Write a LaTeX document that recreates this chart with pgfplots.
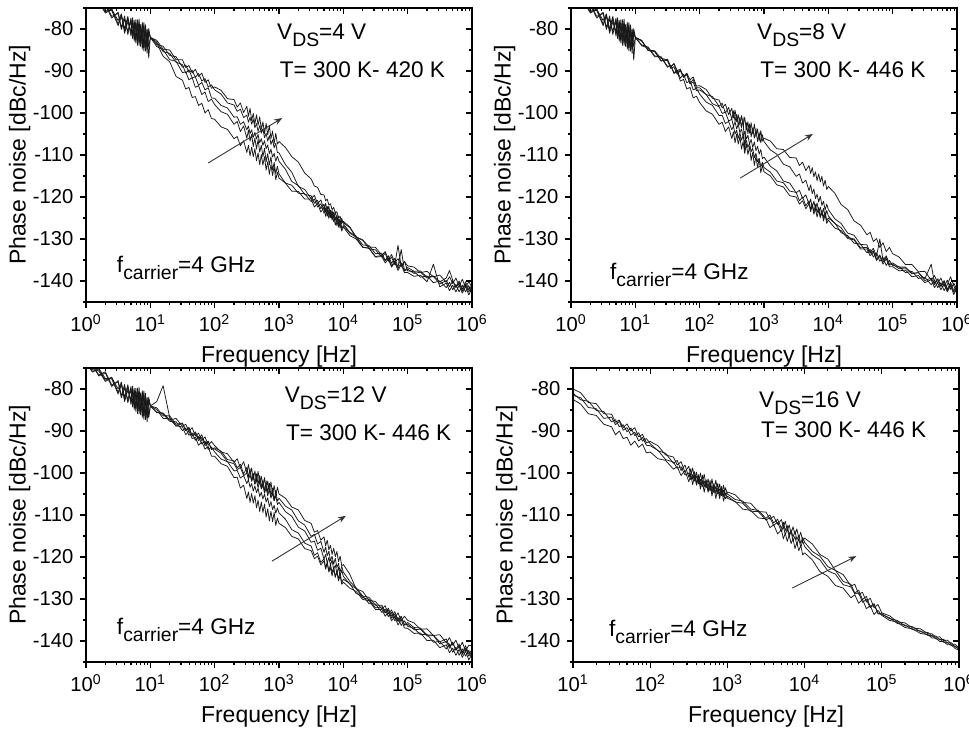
\documentclass[border=0pt]{standalone}
\usepackage{fontspec}
\setmainfont{Liberation Sans}
\usepackage{pgfplots}
\usepackage{pgfplotstable}
\pgfplotsset{compat=1.18}
\usetikzlibrary{arrows.meta}

\newcommand\annfont{\fontsize{11.3}{13}\selectfont}
\newcommand\sub[1]{\raisebox{-3.5pt}{\fontsize{9.7}{10}\selectfont #1}}
\newcommand\tlfont{\fontsize{10.1}{12}\selectfont}
\newcommand\lbfont{\fontsize{11.5}{13}\selectfont}

% ---------------- V_DS = 4 V ----------------
\pgfplotstableread{
f A B C D E
1 -71.5 -72.6 -71.7 -72.4 -71.2
1.26 -73.8 -72.3 -74.0 -72.5 -73.4
1.58 -73.4 -74.9 -73.1 -74.6 -73.7
2 -75.9 -74.2 -75.5 -73.9 -76.2
2.51 -75.2 -77.4 -75.6 -77.0 -75.3
3.16 -78.8 -76.0 -79.2 -76.3 -78.0
3.55 -76.7 -79.7 -77.0 -80.1 -76.4
3.98 -80.5 -76.9 -79.9 -77.7 -81.0
4.47 -77.5 -81.3 -77.0 -80.6 -78.3
5.01 -81.7 -78.0 -81.2 -77.4 -80.7
5.31 -77.9 -82.3 -78.6 -81.6 -77.3
5.62 -82.9 -77.9 -82.3 -78.7 -81.5
5.96 -78.6 -83.3 -77.8 -82.8 -78.8
6.31 -82.8 -78.6 -83.9 -77.8 -82.3
6.68 -78.5 -83.3 -79.3 -83.9 -77.6
7.08 -84.2 -79.3 -82.8 -78.9 -83.5
7.5 -79.8 -84.8 -78.4 -83.4 -80.1
7.94 -85.2 -79.0 -84.1 -78.5 -84.5
8.41 -79.9 -84.7 -80.4 -85.3 -79.0
8.91 -84.6 -80.0 -85.8 -80.3 -83.8
9.44 -81.0 -84.3 -79.9 -86.9 -80.6
10 -82 -82 -82 -82 -82
12.6 -82.7 -83.7 -83.1 -84.2 -83.4
15.8 -84.8 -84.1 -85.4 -84.9 -86.5
20 -85.0 -86.3 -85.8 -87.3 -87.8
25.1 -87.3 -86.6 -87.9 -87.7 -91.3
31.6 -87.3 -89.1 -88.5 -90.4 -92.2
35.5 -89.2 -88.6 -90.5 -90.2 -94.3
39.8 -88.7 -90.3 -89.7 -92.1 -93.9
44.7 -90.5 -89.8 -91.6 -91.6 -96.3
50.1 -89.6 -91.5 -91.4 -93.9 -96.1
56.2 -91.3 -90.6 -93.4 -93.5 -98.2
63.1 -90.5 -92.4 -92.7 -95.6 -97.7
70.8 -92.7 -91.8 -94.5 -95.0 -100.0
79.4 -92.1 -93.8 -94.0 -97.3 -99.2
89.1 -94.1 -93.3 -96.4 -96.7 -101.3
100 -93.8 -94.5 -96.5 -98 -101.5
126 -94.6 -95.5 -98.2 -99.7 -103.3
158 -96.6 -97.6 -98.8 -100.3 -103.9
200 -96.8 -98.1 -101.0 -102.7 -106.1
224 -98.6 -99.6 -100.9 -102.0 -105.6
251 -97.6 -99.1 -102.7 -104.4 -107.8
282 -99.9 -101.1 -102.1 -103.1 -106.6
316 -98.4 -100.5 -104.0 -106.0 -109.4
335 -100.8 -102.2 -103.1 -104.1 -107.7
355 -98.9 -101.0 -104.9 -106.7 -110.2
376 -101.8 -102.7 -104.0 -105.1 -108.1
398 -100.1 -101.5 -105.8 -108.0 -110.4
422 -102.6 -103.5 -104.6 -106.0 -108.5
447 -100.4 -102.5 -106.2 -108.6 -111.4
473 -102.9 -104.4 -105.1 -106.3 -109.5
501 -100.9 -103.0 -107.1 -109.3 -112.3
531 -103.9 -104.8 -106.1 -107.7 -109.9
562 -102.1 -103.8 -107.7 -110.4 -112.4
596 -104.9 -105.9 -106.6 -108.4 -110.4
631 -102.5 -104.8 -108.5 -111.6 -113.6
668 -105.2 -106.7 -107.6 -109.7 -111.6
708 -103.0 -105.4 -109.7 -112.4 -114.6
750 -106.1 -107.5 -108.6 -110.4 -112.3
794 -104.3 -106.4 -110.5 -113.6 -114.9
841 -107.3 -108.3 -109.6 -111.8 -112.7
891 -104.8 -107.2 -111.5 -114.4 -115.9
944 -107.4 -109.4 -110.3 -112.7 -114.1
1000 -106.8 -109.5 -111.5 -114.5 -115.5
1260 -108.2 -112.3 -113.4 -116.7 -116.7
1580 -110.4 -114.1 -116.3 -117.2 -118.6
2000 -111.7 -117.5 -117.3 -119.1 -118.7
2510 -114.3 -118.2 -119.4 -119.2 -120.5
3160 -115.7 -120.4 -119.7 -121.1 -120.5
3550 -117.4 -119.6 -121.5 -120.5 -122.4
3980 -117.7 -121.6 -120.8 -122.4 -121.5
4470 -119.4 -120.7 -122.8 -121.6 -123.6
5010 -119.5 -123.0 -121.7 -123.9 -122.5
5310 -120.9 -121.5 -123.6 -122.6 -124.6
5620 -120.5 -123.5 -122.2 -124.6 -123.2
5960 -121.9 -122.2 -124.3 -123.1 -125.1
6310 -121.6 -124.4 -123.1 -124.9 -123.5
6680 -123.0 -123.2 -125.1 -123.6 -125.5
7080 -122.5 -125.0 -123.6 -125.9 -124.4
7500 -123.8 -123.5 -125.5 -124.8 -126.7
7940 -123.5 -125.6 -124.3 -126.8 -125.3
8410 -125.0 -124.5 -126.6 -125.3 -127.2
8910 -124.6 -126.6 -125.3 -127.4 -125.9
9440 -126.0 -125.1 -127.5 -126.0 -128.1
10000 -126.1 -126.4 -126.8 -125.8 -127.1
12600 -127.3 -128.4 -128.6 -127.1 -129.2
15800 -129.6 -129.3 -129.6 -129.5 -130.0
20000 -130.3 -131.4 -131.9 -130.2 -132.0
25100 -132.3 -131.6 -132.2 -131.9 -132.2
31600 -132.6 -133.5 -134.2 -132.0 -134.3
39800 -134.3 -133.4 -133.9 -133.9 -134.2
44700 -133.4 -135.1 -135.2 -133.0 -135.7
50100 -135.3 -134.0 -134.5 -134.8 -134.8
56200 -134.3 -135.8 -136.4 -133.7 -136.7
63100 -136.1 -134.6 -135.3 -135.6 -135.6
70800 -131.5 -136.7 -137.0 -134.7 -137.5
79400 -136.6 -132.5 -135.7 -136.5 -136.1
89100 -135.4 -137.5 -137.6 -135.3 -138.0
100000 -136.4 -136.8 -137.2 -137.6 -138.0
126000 -136.7 -137.7 -138.2 -137.8 -138.9
158000 -138.0 -137.6 -137.9 -139.1 -138.6
200000 -137.7 -139.1 -139.3 -138.8 -140.2
251000 -139.0 -138.8 -138.9 -140.4 -136.0
316000 -138.6 -140.2 -140.7 -140.0 -141.4
398000 -140.3 -139.3 -139.9 -141.6 -140.5
447000 -139.0 -137.5 -141.4 -140.3 -142.3
501000 -140.6 -139.8 -139.9 -142.1 -141.0
562000 -139.3 -141.5 -141.6 -140.8 -142.6
631000 -141.2 -140.0 -140.4 -142.6 -141.1
708000 -139.6 -142.0 -142.4 -141.0 -142.9
794000 -141.6 -140.2 -140.8 -142.6 -141.3
891000 -140.1 -142.1 -142.6 -141.1 -143.3
1000000 -141.6 -141.0 -141.3 -143.1 -141.8
}\pone

% ---------------- V_DS = 8 V ----------------
\pgfplotstableread{
f A B C D E
1 -71.7 -71.2 -71.5 -72.6 -72.4
1.26 -74.0 -73.4 -73.8 -72.3 -72.5
1.58 -73.1 -73.7 -73.4 -74.9 -74.6
2 -75.5 -76.2 -75.9 -74.2 -73.9
2.51 -75.6 -75.3 -75.2 -77.4 -77.0
3.16 -79.2 -78.0 -78.8 -76.0 -76.3
3.55 -77.0 -76.4 -76.7 -79.7 -80.1
3.98 -79.9 -81.0 -80.5 -76.9 -77.7
4.47 -77.0 -78.3 -77.5 -81.3 -80.6
5.01 -81.2 -80.7 -81.7 -78.0 -77.4
5.31 -78.6 -77.3 -77.9 -82.3 -81.6
5.62 -82.3 -81.5 -82.9 -77.9 -78.7
5.96 -77.8 -78.8 -78.6 -83.3 -82.8
6.31 -83.9 -82.3 -82.8 -78.6 -77.8
6.68 -79.3 -77.6 -78.5 -83.3 -83.9
7.08 -82.8 -83.5 -84.2 -79.3 -78.9
7.5 -78.4 -80.1 -79.8 -84.8 -83.4
7.94 -84.1 -84.5 -85.2 -79.0 -78.5
8.41 -80.4 -79.0 -79.9 -84.7 -85.3
8.91 -85.8 -83.8 -84.6 -80.0 -80.3
9.44 -79.9 -80.6 -81.0 -84.3 -87.4
10 -82 -82 -82 -82 -82
12.6 -82.9 -82.7 -82.8 -83.8 -84.0
15.8 -85.0 -85.1 -85.1 -84.3 -84.5
20 -85.2 -85.4 -85.3 -86.4 -86.6
25.1 -87.0 -87.6 -87.6 -86.7 -86.6
31.6 -87.3 -87.2 -87.5 -89.1 -88.9
35.5 -89.1 -89.0 -89.4 -88.6 -88.7
39.8 -88.2 -88.3 -89.0 -90.4 -90.6
44.7 -89.9 -90.3 -90.8 -89.9 -90.1
50.1 -89.6 -89.8 -89.9 -91.7 -92.4
56.2 -91.4 -91.5 -91.5 -90.8 -92.0
63.1 -90.5 -90.8 -90.8 -92.8 -94.3
70.8 -92.1 -93.0 -93.1 -92.3 -93.9
79.4 -91.4 -92.0 -92.6 -94.5 -96.4
89.1 -93.6 -94.0 -94.7 -94.1 -96.0
100 -93.5 -94 -94.5 -95.5 -97.5
126 -94.4 -95.6 -95.6 -97.4 -99.5
158 -96.5 -96.1 -97.8 -98.2 -100.3
200 -96.9 -98.4 -98.5 -100.6 -102.7
224 -98.8 -97.7 -100.1 -100.6 -102.2
251 -97.9 -100.0 -99.8 -102.5 -104.4
282 -100.4 -98.7 -101.9 -102.0 -103.3
316 -98.9 -101.5 -101.5 -104.0 -106.1
335 -101.2 -99.5 -103.2 -103.1 -104.5
355 -99.3 -102.0 -102.1 -105.0 -107.1
376 -102.1 -100.3 -103.8 -104.1 -105.0
398 -100.4 -103.1 -102.7 -106.0 -107.4
422 -102.9 -101.0 -104.7 -104.8 -105.6
447 -100.6 -103.5 -103.8 -106.5 -108.6
473 -103.1 -101.1 -105.7 -105.4 -106.8
501 -101.0 -109.5 -104.4 -107.5 -109.6
531 -104.0 -102.3 -106.2 -106.5 -107.3
562 -102.1 -104.9 -105.3 -108.2 -109.9
596 -104.8 -102.6 -107.4 -107.2 -108.0
631 -102.3 -105.7 -106.3 -109.2 -111.3
668 -105.0 -103.5 -108.2 -108.4 -109.4
708 -102.7 -106.0 -106.9 -110.6 -112.5
750 -105.7 -103.7 -109.0 -109.6 -110.3
794 -103.8 -106.8 -107.9 -111.6 -113.0
841 -106.7 -104.7 -109.8 -110.8 -110.9
891 -104.2 -107.1 -108.7 -112.8 -114.2
944 -106.7 -105.2 -110.9 -111.7 -112.5
1000 -106 -106.8 -110.5 -113 -114
1260 -106.7 -108.8 -112.7 -114.1 -115.0
1580 -108.5 -109.8 -113.8 -116.2 -117.1
2000 -108.7 -112.2 -116.2 -116.6 -117.6
2510 -110.6 -112.8 -116.7 -118.6 -119.7
3160 -110.7 -115.1 -119.0 -118.9 -120.0
3550 -112.5 -114.5 -118.4 -120.9 -121.7
3980 -111.7 -116.7 -120.3 -120.0 -120.9
4470 -113.7 -116.0 -119.5 -122.1 -122.8
5010 -112.5 -118.5 -121.8 -120.9 -121.6
5310 -114.4 -117.1 -120.5 -123.0 -123.5
5620 -113.0 -119.2 -122.5 -121.6 -122.0
5960 -115.2 -118.1 -121.0 -123.5 -124.1
6310 -114.0 -120.4 -122.8 -121.8 -122.8
6680 -116.1 -119.3 -121.4 -123.7 -124.8
7080 -114.5 -121.2 -123.6 -122.5 -123.1
7500 -116.4 -119.8 -122.4 -124.7 -124.9
7940 -115.1 -122.0 -124.3 -123.1 -123.5
8410 -117.4 -121.0 -122.7 -124.9 -125.7
8910 -116.0 -123.1 -124.7 -123.5 -124.2
9440 -118.2 -121.7 -123.2 -125.6 -126.3
10000 -117.5 -123 -124.5 -125 -125.5
12600 -119.1 -125.2 -126.3 -126.2 -127.4
15800 -121.8 -126.3 -127.3 -128.5 -128.0
20000 -123.0 -128.6 -129.6 -129.2 -129.9
25100 -125.7 -129.1 -130.0 -131.0 -130.2
31600 -126.7 -131.3 -132.1 -131.2 -132.4
39800 -129.0 -131.4 -132.0 -133.3 -132.4
44700 -128.4 -133.2 -133.4 -132.5 -134.0
50100 -130.6 -132.2 -132.8 -134.3 -133.1
56200 -129.9 -134.1 -134.8 -133.3 -135.1
63100 -132.0 -130.0 -133.8 -135.3 -134.1
70800 -130.9 -135.1 -135.5 -134.4 -136.0
79400 -133.0 -134.0 -134.3 -136.3 -134.7
89100 -132.0 -136.0 -136.2 -135.1 -136.6
100000 -133.5 -135.7 -136.0 -136.3 -136.6
126000 -134.3 -136.7 -137.1 -136.6 -137.6
158000 -136.1 -136.7 -136.9 -138.0 -137.4
200000 -136.1 -138.2 -138.3 -137.7 -139.0
251000 -137.8 -138.0 -138.0 -139.4 -138.7
316000 -137.7 -139.5 -139.9 -139.1 -140.4
398000 -139.8 -136.0 -139.3 -140.9 -139.7
447000 -138.7 -140.6 -140.9 -139.7 -141.6
501000 -140.5 -139.5 -139.5 -141.6 -140.4
562000 -139.3 -141.3 -141.3 -140.4 -142.1
631000 -141.3 -139.9 -140.2 -142.3 -140.7
708000 -139.8 -142.0 -142.3 -140.8 -142.6
794000 -142.0 -140.3 -140.8 -139.0 -141.1
891000 -140.5 -142.3 -142.7 -141.1 -143.2
1000000 -142.0 -141.2 -141.4 -143.1 -141.7
}\ptwo

% ---------------- V_DS = 12 V ----------------
\pgfplotstableread{
f A B C D E
1 -74.4 -73.5 -73.2 -73.7 -74.6
1.26 -74.5 -75.8 -75.4 -76.0 -74.3
1.58 -76.6 -75.4 -75.7 -75.1 -76.9
2 -75.9 -77.9 -78.2 -77.5 -76.2
2.51 -79.0 -77.2 -77.3 -77.6 -79.4
3.16 -78.3 -80.8 -80.0 -81.2 -78.0
3.55 -82.1 -78.7 -78.4 -79.0 -81.7
3.98 -79.7 -82.5 -83.0 -81.9 -78.9
4.47 -82.6 -79.5 -80.3 -79.0 -83.3
5.01 -79.4 -83.7 -82.7 -83.2 -80.0
5.31 -83.6 -79.9 -79.3 -80.6 -84.3
5.62 -80.7 -84.9 -83.5 -84.3 -79.9
5.96 -84.8 -80.6 -80.8 -79.8 -85.3
6.31 -79.8 -84.8 -84.3 -85.9 -80.6
6.68 -85.9 -80.5 -79.6 -81.3 -85.3
7.08 -80.9 -86.2 -85.5 -84.8 -81.3
7.5 -85.4 -81.8 -82.1 -80.4 -86.8
7.94 -80.5 -87.2 -86.5 -86.1 -81.0
8.41 -87.3 -81.9 -81.0 -82.4 -86.7
8.91 -82.3 -86.6 -85.8 -87.8 -82.0
9.44 -86.9 -83.0 -82.6 -81.9 -86.3
10 -84 -84 -84 -84 -84
12.6 -85.6 -84.5 -83.0 -85.6 -84.9
15.8 -85.7 -86.4 -79.2 -85.9 -87.0
20 -87.4 -86.4 -86.8 -87.7 -87.1
25.1 -87.0 -88.4 -88.8 -87.8 -88.8
31.6 -88.9 -88.1 -88.2 -89.9 -89.0
35.5 -88.4 -89.9 -89.9 -89.3 -90.9
39.8 -90.0 -89.4 -89.1 -91.0 -90.0
44.7 -89.2 -91.1 -91.2 -90.5 -91.8
50.1 -91.2 -90.2 -90.6 -92.2 -91.5
56.2 -90.5 -91.8 -92.3 -91.3 -93.4
63.1 -92.3 -90.9 -91.5 -93.1 -92.6
70.8 -91.4 -93.1 -93.5 -92.4 -94.3
79.4 -93.4 -92.4 -92.5 -94.4 -93.7
89.1 -92.5 -94.4 -94.3 -93.8 -96.0
100 -93.5 -94 -94.3 -95 -96
126 -95.0 -94.8 -95.3 -96.7 -97.8
158 -95.4 -96.8 -97.3 -97.3 -98.4
200 -97.5 -97.1 -97.8 -99.5 -101.1
224 -96.6 -98.8 -99.2 -99.4 -101.0
251 -98.8 -97.9 -98.7 -101.2 -103.6
282 -97.3 -100.2 -100.6 -100.6 -102.9
316 -100.0 -98.7 -100.0 -102.5 -106.1
335 -98.0 -101.0 -101.6 -101.6 -104.5
355 -100.5 -99.0 -100.4 -103.4 -107.0
376 -98.8 -101.8 -102.0 -102.5 -104.9
398 -101.6 -100.1 -100.8 -104.3 -107.2
422 -99.5 -102.6 -102.7 -103.1 -105.4
447 -102.0 -100.2 -101.7 -104.7 -108.3
473 -99.6 -102.7 -103.5 -103.6 -106.5
501 -102.5 -100.6 -102.1 -105.6 -109.2
531 -100.8 -103.5 -103.8 -104.6 -106.9
562 -103.4 -101.6 -102.8 -106.2 -109.4
596 -101.1 -104.4 -104.8 -105.0 -107.4
631 -104.1 -101.9 -103.6 -106.9 -110.5
668 -101.9 -104.7 -105.4 -105.9 -108.5
708 -104.4 -102.4 -104.0 -108.0 -111.4
750 -102.1 -105.5 -106.0 -106.8 -109.1
794 -105.1 -103.6 -104.8 -108.7 -111.6
841 -103.0 -106.6 -106.6 -107.7 -109.4
891 -105.4 -104.1 -105.4 -109.6 -112.5
944 -103.4 -106.7 -107.5 -108.3 -110.7
1000 -105 -106 -107 -109.5 -112
1260 -106.0 -107.9 -109.2 -111.0 -113.0
1580 -108.1 -108.8 -110.3 -113.5 -115.1
2000 -108.8 -111.4 -112.9 -114.3 -115.7
2510 -111.3 -112.4 -113.8 -116.7 -118.0
3160 -112.0 -115.1 -116.5 -117.4 -118.5
3550 -114.1 -114.6 -116.2 -119.6 -120.4
3980 -113.7 -116.9 -118.4 -119.0 -119.8
4470 -116.0 -116.3 -117.9 -121.3 -121.9
5010 -115.2 -118.9 -120.5 -120.4 -120.9
5310 -117.3 -117.6 -119.4 -122.6 -122.9
5620 -116.0 -119.7 -121.5 -121.3 -121.5
5960 -118.3 -118.6 -120.1 -123.3 -123.6
6310 -117.2 -120.9 -122.0 -121.7 -122.5
6680 -119.4 -119.8 -120.7 -123.7 -124.5
7080 -117.9 -121.7 -123.0 -122.5 -122.9
7500 -119.9 -120.3 -121.9 -124.8 -124.8
7940 -118.7 -122.5 -123.9 -123.3 -123.5
8410 -121.1 -121.5 -122.4 -125.2 -125.7
8910 -119.8 -123.6 -124.5 -123.8 -124.4
9440 -122.1 -122.2 -123.1 -126.1 -126.5
10000 -121.8 -123.6 -124.6 -125.3 -126.0
12600 -124.1 -125.8 -126.5 -126.3 -127.4
15800 -127.6 -127.3 -127.5 -128.7 -128.2
20000 -128.2 -129.3 -129.7 -129.3 -130.1
25100 -130.3 -129.6 -130.1 -131.1 -130.4
31600 -130.6 -131.5 -132.1 -131.2 -132.5
39800 -132.4 -131.5 -131.9 -133.2 -132.5
44700 -131.6 -133.3 -133.3 -132.4 -134.1
50100 -133.5 -132.2 -132.6 -134.2 -133.2
56200 -132.6 -134.1 -134.6 -133.2 -135.2
63100 -134.5 -133.0 -133.6 -135.2 -134.2
70800 -133.3 -135.2 -135.4 -134.4 -136.2
79400 -135.2 -134.1 -134.2 -136.3 -134.9
89100 -134.1 -136.2 -136.2 -135.2 -136.9
100000 -135.1 -135.6 -136.0 -136.5 -137.0
126000 -135.7 -136.8 -137.3 -137.0 -138.2
158000 -137.2 -136.9 -137.2 -138.5 -138.1
200000 -137.1 -138.6 -138.8 -138.4 -139.9
251000 -138.7 -138.6 -138.7 -140.3 -139.8
316000 -138.5 -140.2 -140.7 -140.1 -141.6
398000 -140.4 -139.5 -140.1 -141.9 -140.9
447000 -139.2 -141.3 -141.7 -140.7 -142.8
501000 -141.0 -140.3 -140.4 -142.7 -141.7
562000 -139.8 -142.1 -142.2 -141.5 -143.4
631000 -141.8 -140.7 -141.1 -143.4 -142.0
708000 -140.3 -142.8 -143.2 -141.9 -143.9
794000 -142.4 -141.1 -141.7 -143.6 -142.4
891000 -141.0 -143.1 -143.6 -142.2 -144.5
1000000 -141.2 -142.1 -142.4 -144.3 -143.1
}\pthree

% ---------------- V_DS = 16 V ----------------
\pgfplotstableread{
f A B C D
10 -80 -81 -81.5 -82.5
12.6 -80.9 -82.6 -82.1 -83.6
15.8 -83.2 -82.9 -84.4 -85.9
20 -83.5 -85.1 -84.7 -86.3
25.1 -85.9 -85.4 -87.0 -88.4
31.6 -86.0 -87.8 -86.7 -89.0
35.5 -87.9 -87.3 -88.5 -90.9
39.8 -87.4 -89.0 -87.7 -90.0
44.7 -89.2 -88.5 -89.8 -91.8
50.1 -88.3 -90.2 -89.2 -91.5
56.2 -90.0 -89.3 -91.0 -93.4
63.1 -89.2 -91.1 -90.3 -92.4
70.8 -91.4 -90.4 -92.4 -93.9
79.4 -90.8 -92.4 -91.5 -93.1
89.1 -92.8 -91.8 -93.4 -95.2
100 -92.5 -93 -93.5 -95
126 -93.5 -94.7 -94.6 -96.6
158 -95.7 -95.3 -96.8 -97.0
200 -96.2 -97.7 -97.4 -99.1
224 -98.1 -97.0 -98.9 -98.5
251 -97.3 -99.4 -98.5 -100.6
282 -99.8 -98.1 -100.5 -99.4
316 -98.4 -101.0 -100.0 -102.1
335 -100.7 -99.0 -101.6 -100.4
355 -98.8 -101.5 -100.4 -102.8
376 -101.5 -99.7 -101.9 -100.6
398 -99.8 -102.5 -100.7 -102.9
422 -102.3 -100.4 -102.6 -101.0
447 -100.0 -102.9 -101.5 -103.8
473 -102.5 -100.5 -103.3 -101.9
501 -100.3 -103.3 -101.9 -104.6
531 -103.3 -101.6 -103.5 -102.1
562 -101.4 -104.2 -102.5 -104.6
596 -104.0 -101.8 -104.3 -102.4
631 -101.4 -104.7 -103.0 -105.5
668 -104.1 -102.5 -104.7 -103.3
708 -101.7 -104.9 -103.2 -106.1
750 -104.6 -102.5 -105.0 -103.7
794 -102.6 -105.4 -103.8 -106.1
841 -105.4 -103.2 -105.4 -103.7
891 -102.9 -105.6 -104.1 -106.7
944 -105.3 -103.5 -106.1 -104.8
1000 -104.5 -105 -105.5 -106
1260 -105.2 -106.3 -106.9 -106.8
1580 -107.0 -106.7 -107.2 -108.6
2000 -107.2 -108.6 -109.1 -108.9
2510 -109.2 -108.9 -109.2 -110.7
3160 -109.3 -110.8 -111.2 -110.9
3550 -111.0 -110.0 -110.6 -113.0
3980 -110.3 -111.9 -112.5 -112.3
4470 -112.2 -111.0 -111.7 -114.5
5010 -111.1 -113.2 -114.0 -113.5
5310 -112.9 -111.7 -112.7 -115.7
5620 -111.5 -113.7 -114.7 -114.3
5960 -113.6 -112.5 -113.3 -116.3
6310 -112.4 -114.7 -115.2 -114.8
6680 -114.4 -113.5 -113.9 -116.8
7080 -112.8 -115.3 -116.2 -115.7
7500 -114.6 -113.8 -115.1 -118.0
7940 -113.3 -115.9 -117.1 -116.6
8410 -115.5 -114.8 -115.6 -118.5
8910 -114.1 -116.8 -117.7 -117.2
9440 -116.2 -115.3 -116.2 -119.5
10000 -115.5 -116.5 -117.5 -119
12600 -116.9 -118.7 -119.5 -120.7
15800 -119.4 -119.8 -120.7 -123.5
20000 -120.5 -122.3 -123.3 -124.6
25100 -123.2 -123.2 -124.1 -126.8
31600 -124.2 -125.8 -126.6 -127.4
39800 -126.9 -126.5 -127.1 -129.7
44700 -126.5 -128.6 -128.8 -129.0
50100 -128.9 -127.9 -128.5 -131.0
56200 -128.4 -130.1 -130.8 -130.1
63100 -130.7 -129.4 -130.1 -132.3
70800 -129.8 -131.8 -132.1 -131.6
79400 -132.1 -131.1 -131.3 -133.7
89100 -131.3 -133.4 -133.5 -132.7
100000 -133.3 -133.5 -133.7 -133.9
126000 -134.0 -134.7 -134.5 -135.1
158000 -135.4 -135.1 -135.8 -135.5
200000 -135.7 -136.4 -136.2 -136.8
251000 -136.9 -136.6 -137.3 -137.1
316000 -137.1 -137.8 -137.6 -138.2
398000 -138.3 -138.0 -138.7 -138.5
447000 -138.3 -138.9 -138.7 -139.3
501000 -139.1 -138.8 -139.5 -139.3
562000 -139.0 -139.7 -139.5 -140.1
631000 -139.9 -139.6 -140.3 -140.1
708000 -139.8 -140.5 -140.3 -140.9
794000 -140.7 -140.4 -141.1 -140.9
891000 -140.8 -141.4 -141.2 -141.8
1000000 -141.7 -141.8 -142.0 -142.2
}\pfour

\pgfplotsset{
  every axis/.append style={
    scale only axis, width=193pt, height=147pt,
    ymin=-145, ymax=-75,
    ytick={-140,-130,-120,-110,-100,-90,-80},
    minor ytick={-145,-135,-125,-115,-105,-95,-85,-75},
    major tick length=2.8pt, minor tick length=1.6pt,
    axis line style={line width=0.6pt},
    every tick/.append style={black, line width=0.55pt},
    every tick label/.append style={font=\tlfont},
    every axis label/.append style={font=\lbfont},
  },
  pncurve/.style={black!90, line width=0.38pt, mark=none, line join=round},
  pnarr/.style={black!80, line width=0.45pt, mark=none, -{Stealth[length=4pt,width=3pt]}},
}

\begin{document}
\begin{tikzpicture}
% ---- panel 1 ----
\begin{axis}[xmode=log, xmin=1, xmax=1000000,
  xtick={1,10,100,1000,10000,100000,1000000},
  minor xtick={2,3,4,5,6,7,8,9,20,30,40,50,60,70,80,90,200,300,400,500,600,700,800,900,2000,3000,4000,5000,6000,7000,8000,9000,20000,30000,40000,50000,60000,70000,80000,90000,200000,300000,400000,500000,600000,700000,800000,900000},
  xticklabels={10\textsuperscript{0},10\textsuperscript{1},10\textsuperscript{2},10\textsuperscript{3},10\textsuperscript{4},10\textsuperscript{5},10\textsuperscript{6}},
  yticklabels={-140,-130,-120,-110,-100,-90,-80},
  tick align=outside, xtick pos=left, ytick pos=left,
  xlabel={Frequency [Hz]}, ylabel={Phase noise [dBc/Hz]},
  xlabel style={at={(axis description cs:0.5,-0.207)}, anchor=base},
  ylabel style={at={(axis description cs:-0.172,0.5)}, anchor=center},
  at={(43pt,214.5pt)}, anchor=south west]
\addplot[pncurve] table[x=f,y=A]{\pone};
\addplot[pncurve] table[x=f,y=B]{\pone};
\addplot[pncurve] table[x=f,y=C]{\pone};
\addplot[pncurve] table[x=f,y=D]{\pone};
\addplot[pncurve] table[x=f,y=E]{\pone};
\addplot[pnarr] coordinates {(79.4,-111.9) (1122,-101.2)};
\node[anchor=base west, font=\annfont] at (rel axis cs:0.477,0.892) {V\sub{DS}=4 V};
\node[anchor=base west, font=\annfont] at (rel axis cs:0.484,0.765) {T= 300 K- 420 K};
\node[anchor=base west, font=\annfont] at (rel axis cs:0.062,0.099) {f\sub{carrier}=4 GHz};
\end{axis}
\begin{axis}[xmode=log, xmin=1, xmax=1000000,
  xtick={1,10,100,1000,10000,100000,1000000},
  minor xtick={2,3,4,5,6,7,8,9,20,30,40,50,60,70,80,90,200,300,400,500,600,700,800,900,2000,3000,4000,5000,6000,7000,8000,9000,20000,30000,40000,50000,60000,70000,80000,90000,200000,300000,400000,500000,600000,700000,800000,900000},
  xticklabels={}, yticklabels={},
  tick align=inside, xtick pos=right, ytick pos=right,
  at={(43pt,214.5pt)}, anchor=south west]
\end{axis}
% ---- panel 2 ----
\begin{axis}[xmode=log, xmin=1, xmax=1000000,
  xtick={1,10,100,1000,10000,100000,1000000},
  minor xtick={2,3,4,5,6,7,8,9,20,30,40,50,60,70,80,90,200,300,400,500,600,700,800,900,2000,3000,4000,5000,6000,7000,8000,9000,20000,30000,40000,50000,60000,70000,80000,90000,200000,300000,400000,500000,600000,700000,800000,900000},
  xticklabels={10\textsuperscript{0},10\textsuperscript{1},10\textsuperscript{2},10\textsuperscript{3},10\textsuperscript{4},10\textsuperscript{5},10\textsuperscript{6}},
  yticklabels={-140,-130,-120,-110,-100,-90,-80},
  tick align=outside, xtick pos=left, ytick pos=left,
  xlabel={Frequency [Hz]}, ylabel={Phase noise [dBc/Hz]},
  xlabel style={at={(axis description cs:0.5,-0.207)}, anchor=base},
  ylabel style={at={(axis description cs:-0.172,0.5)}, anchor=center},
  at={(285.5pt,214.5pt)}, anchor=south west]
\addplot[pncurve] table[x=f,y=A]{\ptwo};
\addplot[pncurve] table[x=f,y=B]{\ptwo};
\addplot[pncurve] table[x=f,y=C]{\ptwo};
\addplot[pncurve] table[x=f,y=D]{\ptwo};
\addplot[pncurve] table[x=f,y=E]{\ptwo};
\addplot[pnarr] coordinates {(427,-115.5) (5754,-105)};
\node[anchor=base west, font=\annfont] at (rel axis cs:0.464,0.892) {V\sub{DS}=8 V};
\node[anchor=base west, font=\annfont] at (rel axis cs:0.472,0.762) {T= 300 K- 446 K};
\node[anchor=base west, font=\annfont] at (rel axis cs:0.083,0.078) {f\sub{carrier}=4 GHz};
\end{axis}
\begin{axis}[xmode=log, xmin=1, xmax=1000000,
  xtick={1,10,100,1000,10000,100000,1000000},
  minor xtick={2,3,4,5,6,7,8,9,20,30,40,50,60,70,80,90,200,300,400,500,600,700,800,900,2000,3000,4000,5000,6000,7000,8000,9000,20000,30000,40000,50000,60000,70000,80000,90000,200000,300000,400000,500000,600000,700000,800000,900000},
  xticklabels={}, yticklabels={},
  tick align=inside, xtick pos=right, ytick pos=right,
  at={(285.5pt,214.5pt)}, anchor=south west]
\end{axis}
% ---- panel 3 ----
\begin{axis}[xmode=log, xmin=1, xmax=1000000,
  xtick={1,10,100,1000,10000,100000,1000000},
  minor xtick={2,3,4,5,6,7,8,9,20,30,40,50,60,70,80,90,200,300,400,500,600,700,800,900,2000,3000,4000,5000,6000,7000,8000,9000,20000,30000,40000,50000,60000,70000,80000,90000,200000,300000,400000,500000,600000,700000,800000,900000},
  xticklabels={10\textsuperscript{0},10\textsuperscript{1},10\textsuperscript{2},10\textsuperscript{3},10\textsuperscript{4},10\textsuperscript{5},10\textsuperscript{6}},
  yticklabels={-140,-130,-120,-110,-100,-90,-80},
  tick align=outside, xtick pos=left, ytick pos=left,
  xlabel={Frequency [Hz]}, ylabel={Phase noise [dBc/Hz]},
  xlabel style={at={(axis description cs:0.5,-0.207)}, anchor=base},
  ylabel style={at={(axis description cs:-0.172,0.5)}, anchor=center},
  at={(43pt,34.5pt)}, anchor=south west]
\addplot[pncurve] table[x=f,y=A]{\pthree};
\addplot[pncurve] table[x=f,y=B]{\pthree};
\addplot[pncurve] table[x=f,y=C]{\pthree};
\addplot[pncurve] table[x=f,y=D]{\pthree};
\addplot[pncurve] table[x=f,y=E]{\pthree};
\addplot[pnarr] coordinates {(776,-121) (10965,-110.2)};
\node[anchor=base west, font=\annfont] at (rel axis cs:0.497,0.881) {V\sub{DS}=12 V};
\node[anchor=base west, font=\annfont] at (rel axis cs:0.500,0.755) {T= 300 K- 446 K};
\node[anchor=base west, font=\annfont] at (rel axis cs:0.062,0.092) {f\sub{carrier}=4 GHz};
\end{axis}
\begin{axis}[xmode=log, xmin=1, xmax=1000000,
  xtick={1,10,100,1000,10000,100000,1000000},
  minor xtick={2,3,4,5,6,7,8,9,20,30,40,50,60,70,80,90,200,300,400,500,600,700,800,900,2000,3000,4000,5000,6000,7000,8000,9000,20000,30000,40000,50000,60000,70000,80000,90000,200000,300000,400000,500000,600000,700000,800000,900000},
  xticklabels={}, yticklabels={},
  tick align=inside, xtick pos=right, ytick pos=right,
  at={(43pt,34.5pt)}, anchor=south west]
\end{axis}
% ---- panel 4 ----
\begin{axis}[xmode=log, xmin=10, xmax=1000000,
  xtick={10,100,1000,10000,100000,1000000},
  minor xtick={20,30,40,50,60,70,80,90,200,300,400,500,600,700,800,900,2000,3000,4000,5000,6000,7000,8000,9000,20000,30000,40000,50000,60000,70000,80000,90000,200000,300000,400000,500000,600000,700000,800000,900000},
  xticklabels={10\textsuperscript{1},10\textsuperscript{2},10\textsuperscript{3},10\textsuperscript{4},10\textsuperscript{5},10\textsuperscript{6}},
  yticklabels={-140,-130,-120,-110,-100,-90,-80},
  tick align=outside, xtick pos=left, ytick pos=left,
  xlabel={Frequency [Hz]}, ylabel={Phase noise [dBc/Hz]},
  xlabel style={at={(axis description cs:0.5,-0.207)}, anchor=base},
  ylabel style={at={(axis description cs:-0.172,0.5)}, anchor=center},
  at={(286.5pt,34.5pt)}, anchor=south west]
\addplot[pncurve] table[x=f,y=A]{\pfour};
\addplot[pncurve] table[x=f,y=B]{\pfour};
\addplot[pncurve] table[x=f,y=C]{\pfour};
\addplot[pncurve] table[x=f,y=D]{\pfour};
\addplot[pnarr] coordinates {(6918,-127.4) (46774,-119.8)};
\node[anchor=base west, font=\annfont] at (rel axis cs:0.464,0.867) {V\sub{DS}=16 V};
\node[anchor=base west, font=\annfont] at (rel axis cs:0.469,0.762) {T= 300 K- 446 K};
\node[anchor=base west, font=\annfont] at (rel axis cs:0.075,0.085) {f\sub{carrier}=4 GHz};
\end{axis}
\begin{axis}[xmode=log, xmin=10, xmax=1000000,
  xtick={10,100,1000,10000,100000,1000000},
  minor xtick={20,30,40,50,60,70,80,90,200,300,400,500,600,700,800,900,2000,3000,4000,5000,6000,7000,8000,9000,20000,30000,40000,50000,60000,70000,80000,90000,200000,300000,400000,500000,600000,700000,800000,900000},
  xticklabels={}, yticklabels={},
  tick align=inside, xtick pos=right, ytick pos=right,
  at={(286.5pt,34.5pt)}, anchor=south west]
\end{axis}
\pgfresetboundingbox
\useasboundingbox (0,0) rectangle (484.5pt,365.5pt);
\end{tikzpicture}
\end{document}
